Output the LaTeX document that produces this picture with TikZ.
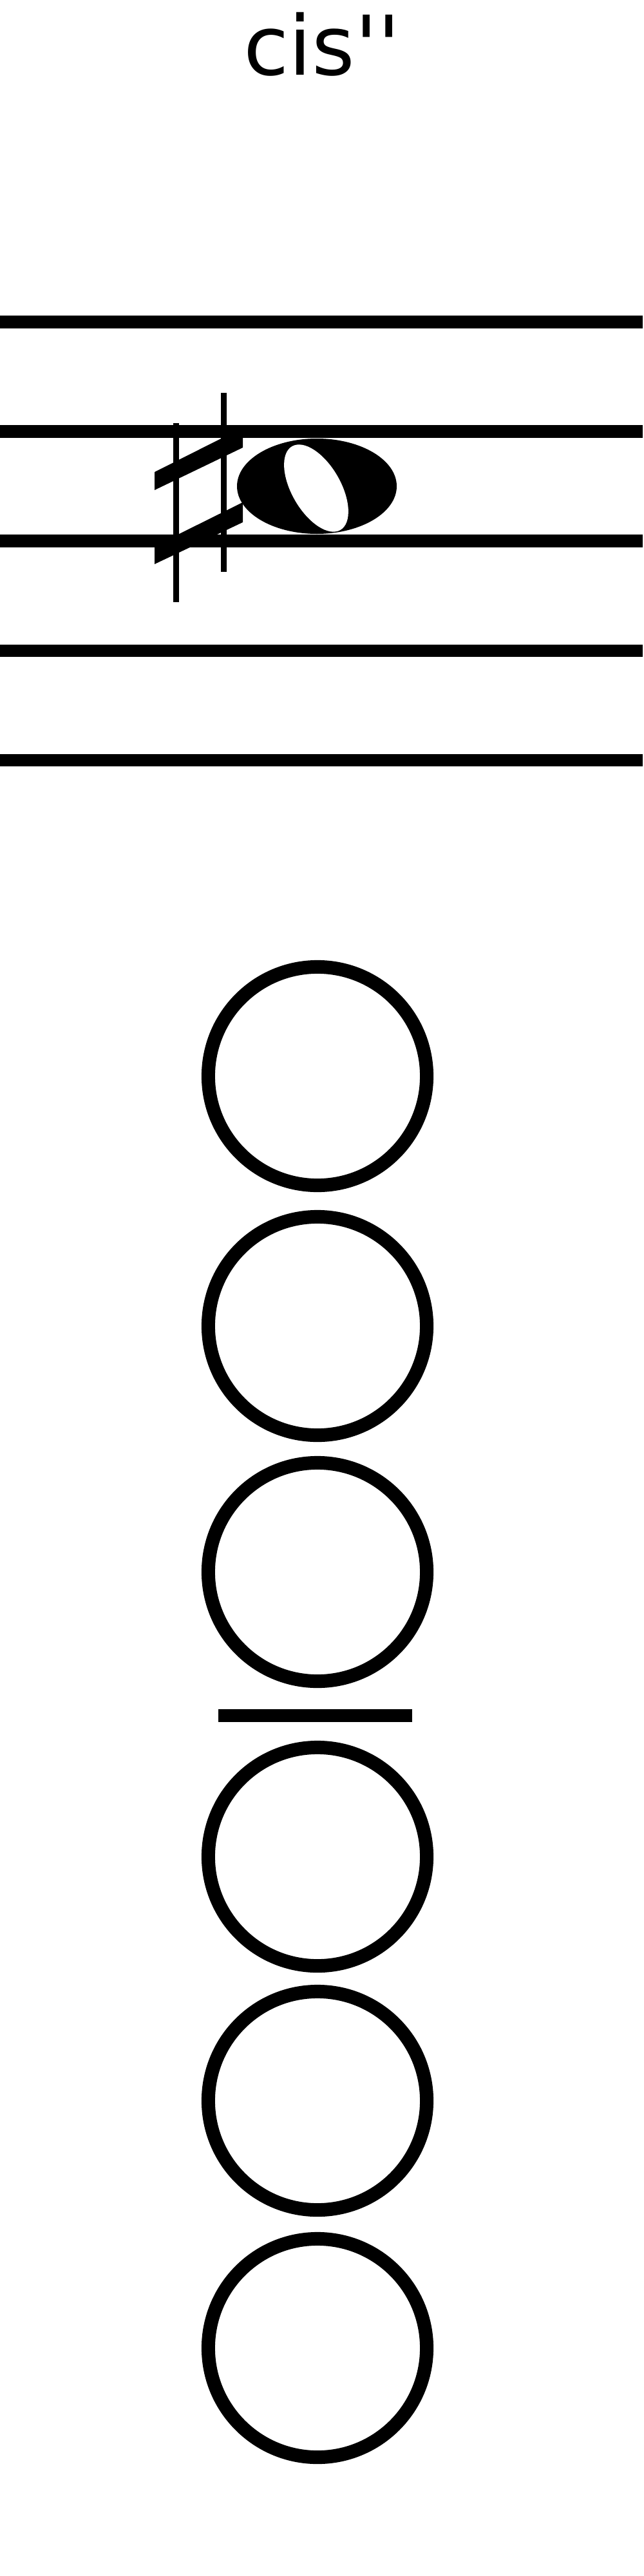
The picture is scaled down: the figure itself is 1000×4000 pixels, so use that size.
\documentclass[tikz,border=0pt]{standalone}
\usepackage{fontspec}
\usepackage{tikz}
\newfontfamily\notefont{DejaVu Sans}

\tikzset{
    staffline/.style={line width=0.19cm},
    sharpline/.style={line width=0.09cm},
    hole/.style={circle, draw, line width=0.21cm, minimum size=3.39cm, inner sep=0pt}
}

\begin{document}
\begin{tikzpicture}[x=0.01cm, y=-0.01cm]
    % Page area (1000 x 4000, y grows downwards)
    \useasboundingbox (0, 0) rectangle (1000, 4000);

    % Name of the note
    \node[font=\notefont\fontsize{36.4}{40}\selectfont, anchor=base, inner sep=0pt] (name) at (500, 117) {cis''};

    % Five staff lines
    \foreach \y in {500, 670, 840, 1010, 1180}
        \draw[staffline] (0, \y) -- (998, \y);

    % Sharp sign
    \draw[sharpline] (273.5, 657) -- (273.5, 935);
    \draw[sharpline] (347, 610) -- (347, 888);
    \fill (240, 733) -- (377, 664) -- (377, 695) -- (240, 761) -- cycle;
    \fill (240, 848) -- (377, 780) -- (377, 811) -- (240, 876) -- cycle;

    % Whole note head with its tilted opening
    \fill (492, 755) ellipse [x radius=124, y radius=74];
    \fill[white, shift={(491, 758)}, rotate=-60] (0, 0) ellipse [x radius=75, y radius=38];

    % Fingering holes (all closed)
    \foreach \n/\y in {1/1671, 2/2059, 3/2441, 4/2883, 5/3262, 6/3646}
        \node[hole] (hole\n) at (493, \y) {};

    % Bar between the two hands
    \draw[line width=0.2cm] (339, 2664) -- (640, 2664);
\end{tikzpicture}
\end{document}
